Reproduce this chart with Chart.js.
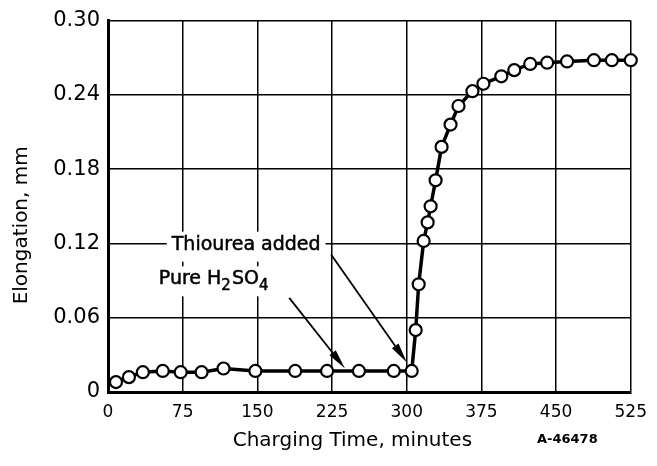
<!DOCTYPE html>
<html>
<head>
<meta charset="utf-8">
<script src="https://cdn.jsdelivr.net/npm/chart.js@4.4.1/dist/chart.umd.min.js"></script>
<style>
  html, body { margin: 0; padding: 0; background: #fff; }
  #wrap { width: 657px; height: 466px; }
</style>
</head>
<body>
<div id="wrap"><canvas id="elongation-chart"></canvas></div>
<script>
(function() {
  'use strict';

  // charging time (minutes) and measured elongation (mm)
  var TIMES = [8, 21, 35, 55, 73, 94, 116, 148, 188, 220, 252, 287, 305,
               309, 312, 317, 321, 324, 329, 335, 344, 352, 366, 377, 395,
               408, 424, 441, 461, 488, 506, 525];
  var ELONG = [0.008, 0.012, 0.016, 0.017, 0.016, 0.016, 0.019, 0.017, 0.017, 0.017, 0.017, 0.017, 0.017,
               0.050, 0.087, 0.122, 0.137, 0.150, 0.171, 0.198, 0.216, 0.231, 0.243, 0.249, 0.255,
               0.260, 0.265, 0.266, 0.267, 0.268, 0.268, 0.268];

  var X_TICKS = [0, 75, 150, 225, 300, 375, 450, 525];
  var Y_TICKS = [0, 0.06, 0.12, 0.18, 0.24, 0.30];

  var X_TITLE = 'Charging Time, minutes';
  var Y_TITLE = 'Elongation, mm';
  var FIG_ID  = 'A-46478';

  var FONT = "'DejaVu Sans', sans-serif";
  var INK  = '#000';

  // callouts: label anchor and arrow (from -> tip) in data units
  var NOTES = [
    { text: 'Thiourea added', x: 64, y: 0.119, from: [224, 0.111], tip: [300, 0.024] },
    { text: 'Pure H|2|SO|4',  x: 51, y: 0.091, from: [182, 0.076], tip: [238, 0.019] }
  ];

  function ticksFrom(list) {
    return function(scale) {
      scale.ticks = list.map(function(v) { return { value: v }; });
    };
  }

  // "A|2|B" style strings: odd segments are subscripts
  function richWidth(ctx, str, size) {
    var w = 0;
    str.split('|').forEach(function(p, i) {
      var sub = i % 2 === 1;
      ctx.font = (sub ? Math.round(size * 0.8) : size) + 'px ' + FONT;
      w += ctx.measureText(p).width + (sub ? 1 : 0);
    });
    return w;
  }

  function drawRich(ctx, str, x, y, size) {
    var cx = x;
    str.split('|').forEach(function(p, i) {
      var sub = i % 2 === 1;
      ctx.font = (sub ? Math.round(size * 0.8) : size) + 'px ' + FONT;
      ctx.fillText(p, cx, sub ? y + size * 0.35 : y);
      ctx.strokeText(p, cx, sub ? y + size * 0.35 : y);
      cx += ctx.measureText(p).width + (sub ? 1 : 0);
    });
  }

  function arrow(ctx, x1, y1, x2, y2) {
    var a = Math.atan2(y2 - y1, x2 - x1);
    var len = 20, half = 4;
    var bx = x2 - Math.cos(a) * len, by = y2 - Math.sin(a) * len;
    ctx.beginPath();
    ctx.moveTo(x1, y1);
    ctx.lineTo(bx, by);
    ctx.lineWidth = 1.8;
    ctx.strokeStyle = INK;
    ctx.stroke();
    ctx.beginPath();
    ctx.moveTo(x2, y2);
    ctx.lineTo(bx - Math.sin(a) * half, by + Math.cos(a) * half);
    ctx.lineTo(bx + Math.sin(a) * half, by - Math.cos(a) * half);
    ctx.closePath();
    ctx.fillStyle = INK;
    ctx.fill();
  }

  var callouts = {
    id: 'callouts',
    afterDatasetsDraw: function(chart) {
      var ctx = chart.ctx;
      var xs = chart.scales.x, ys = chart.scales.y;
      var area = chart.chartArea;
      var size = 19;
      ctx.save();
      ctx.textBaseline = 'middle';
      ctx.textAlign = 'left';
      ctx.lineWidth = 0.5;
      ctx.strokeStyle = INK;
      NOTES.forEach(function(n) {
        var px = xs.getPixelForValue(n.x);
        var py = ys.getPixelForValue(n.y);
        var w = richWidth(ctx, n.text, size);
        ctx.fillStyle = '#fff';
        ctx.fillRect(px - 5, py - 13, w + 10, 30);
        ctx.fillStyle = INK;
        ctx.lineWidth = 0.5;
        drawRich(ctx, n.text, px, py, size);
        arrow(ctx, xs.getPixelForValue(n.from[0]), ys.getPixelForValue(n.from[1]),
                   xs.getPixelForValue(n.tip[0]), ys.getPixelForValue(n.tip[1]));
      });

      // axis titles and figure number
      ctx.fillStyle = INK;
      ctx.textAlign = 'center';
      ctx.font = '20px ' + FONT;
      var cx = (area.left + area.right) / 2;
      ctx.fillText(X_TITLE, cx - 17, 441);
      ctx.font = 'bold 13px ' + FONT;
      ctx.textAlign = 'left';
      ctx.fillText(FIG_ID, 537, 440);

      ctx.translate(22, (area.top + area.bottom) / 2 + 19);
      ctx.rotate(-Math.PI / 2);
      ctx.textAlign = 'center';
      ctx.font = '20px ' + FONT;
      ctx.fillText(Y_TITLE, 0, 0);
      ctx.restore();
    }
  };

  new Chart(document.getElementById('elongation-chart'), {
    type: 'line',
    data: {
      datasets: [{
        data: TIMES.map(function(t, i) { return { x: t, y: ELONG[i] }; }),
        borderColor: INK,
        borderWidth: 3.5,
        tension: 0,
        pointRadius: 6,
        pointBackgroundColor: '#fff',
        pointBorderColor: INK,
        pointBorderWidth: 2.2,
        clip: false
      }]
    },
    options: {
      responsive: true,
      maintainAspectRatio: false,
      animation: false,
      events: [],
      layout: { padding: { top: 18, right: 23, left: 0, bottom: 0 } },
      plugins: { legend: { display: false }, tooltip: { enabled: false } },
      scales: {
        x: {
          type: 'linear',
          min: 0,
          max: 525,
          afterBuildTicks: ticksFrom(X_TICKS),
          afterFit: function(s) { s.height = 74; },
          ticks: {
            color: INK,
            padding: 10,
            maxRotation: 0,
            font: { family: FONT, size: 17 },
            callback: function(v) { return String(v); }
          },
          grid: { color: INK, lineWidth: 1.5, drawTicks: false },
          border: { display: true, color: INK, width: 3 }
        },
        y: {
          min: 0,
          max: 0.30,
          afterBuildTicks: ticksFrom(Y_TICKS),
          afterFit: function(s) { s.width = 108; },
          ticks: {
            color: INK,
            padding: 8,
            font: { family: FONT, size: 21 },
            callback: function(v) { return v === 0 ? '0' : v.toFixed(2); }
          },
          grid: { color: INK, lineWidth: 1.5, drawTicks: false },
          border: { display: true, color: INK, width: 3 }
        }
      }
    },
    plugins: [callouts]
  });
})();
</script>
</body>
</html>
